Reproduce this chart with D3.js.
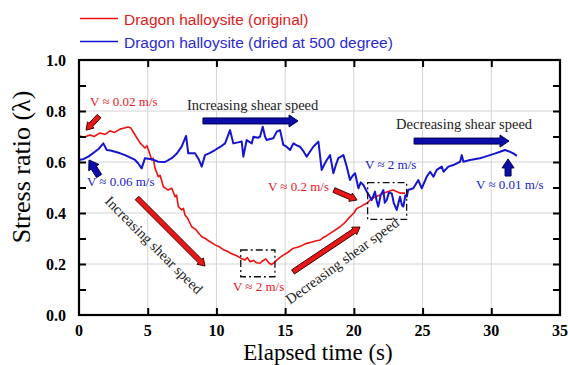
<!DOCTYPE html>
<html><head><meta charset="utf-8">
<script src="https://cdn.jsdelivr.net/npm/d3@7"></script>
<style>html,body{margin:0;padding:0;background:#fff;}svg{display:block;}</style>
</head><body>
<script>
// ---------- data ----------
const seriesNames = ["Dragon halloysite (original)", "Dragon halloysite (dried at 500 degree)"];
const xTicks = [0, 5, 10, 15, 20, 25, 30, 35];
const yTicks = [0.0, 0.2, 0.4, 0.6, 0.8, 1.0];
const yMinorTicks = [0.1, 0.3, 0.5, 0.7, 0.9];

// [elapsed time (s), stress ratio]
const redOriginal = [
 [0,0.702],[0.4,0.698],[0.8,0.706],[1.1,0.700],[1.53,0.714],[1.9,0.708],[2.26,0.722],[2.6,0.716],
 [2.98,0.729],[3.3,0.733],[3.57,0.737],[3.78,0.733],[4.08,0.706],[4.44,0.675],[4.8,0.655],[4.95,0.663],
 [5.1,0.640],[5.29,0.608],[5.4,0.615],[5.53,0.576],[5.77,0.542],[5.9,0.548],[6.14,0.503],[6.48,0.490],
 [6.75,0.497],[6.99,0.464],[7.1,0.470],[7.23,0.425],[7.47,0.412],[7.6,0.418],[7.71,0.392],[7.9,0.380],
 [8.2,0.346],[8.5,0.335],[8.7,0.322],[8.93,0.307],[9.2,0.300],[9.5,0.288],[9.9,0.275],[10.2,0.268],
 [10.5,0.256],[10.87,0.248],[11.1,0.240],[11.3,0.236],[11.59,0.229],[11.8,0.222],[12.08,0.216],
 [12.25,0.225],[12.45,0.209],[12.7,0.214],[12.9,0.205],[13.17,0.203],[13.35,0.212],[13.6,0.220],
 [13.8,0.205],[14.0,0.198],[14.14,0.203],[14.4,0.215],[14.6,0.225],[14.87,0.235],[15.1,0.242],
 [15.3,0.250],[15.6,0.262],[15.9,0.266],[16.2,0.272],[16.57,0.281],[16.9,0.285],[17.2,0.290],
 [17.54,0.294],[17.8,0.305],[18.0,0.310],[18.27,0.320],[18.6,0.332],[19.0,0.346],[19.3,0.360],
 [19.5,0.372],[19.72,0.385],[20.0,0.400],[20.21,0.418],[20.5,0.425],[20.7,0.432],[20.94,0.438],
 [21.18,0.451],[21.5,0.462],[21.9,0.471],[22.2,0.478],[22.5,0.484],[22.87,0.490],[23.1,0.484],
 [23.36,0.478],[23.73,0.478]
];
const blueDried = [
 [0,0.608],[0.35,0.612],[0.68,0.621],[0.9,0.630],[1.16,0.640],[1.45,0.652],[1.77,0.673],[2.02,0.647],
 [2.3,0.645],[2.62,0.640],[3.0,0.634],[3.35,0.627],[3.7,0.618],[4.08,0.608],[4.3,0.595],[4.56,0.575],
 [4.8,0.615],[5.29,0.611],[5.77,0.601],[6.26,0.600],[6.75,0.615],[7.1,0.632],[7.47,0.660],[7.79,0.702],
 [7.95,0.634],[8.44,0.634],[8.7,0.612],[8.93,0.582],[9.17,0.627],[9.5,0.635],[9.9,0.647],[10.3,0.660],
 [10.63,0.673],[10.99,0.725],[11.23,0.673],[11.5,0.676],[11.84,0.680],[11.96,0.621],[12.2,0.686],
 [12.57,0.673],[12.69,0.699],[13.0,0.695],[13.17,0.699],[13.37,0.738],[13.54,0.699],[13.66,0.686],
 [13.9,0.690],[14.14,0.693],[14.39,0.719],[14.63,0.725],[14.87,0.667],[15.1,0.660],[15.36,0.647],
 [15.6,0.673],[15.85,0.665],[16.08,0.660],[16.3,0.645],[16.57,0.621],[16.8,0.640],[17.05,0.660],
 [17.42,0.680],[17.66,0.569],[17.85,0.590],[18.03,0.608],[18.27,0.627],[18.51,0.556],[18.7,0.590],
 [18.87,0.615],[19.24,0.627],[19.48,0.582],[19.72,0.529],[19.9,0.545],[20.09,0.556],[20.33,0.497],
 [20.5,0.520],[20.69,0.510],[20.94,0.484],[21.1,0.470],[21.3,0.451],[21.54,0.484],[21.65,0.450],
 [21.78,0.425],[21.95,0.470],[22.15,0.490],[22.25,0.440],[22.39,0.451],[22.55,0.480],[22.76,0.477],
 [22.9,0.440],[23.12,0.412],[23.36,0.464],[23.5,0.430],[23.6,0.425],[23.75,0.470],[23.85,0.464],
 [23.95,0.490],[24.33,0.497],[24.69,0.529],[24.94,0.497],[25.3,0.542],[25.55,0.562],[25.79,0.542],
 [26.03,0.569],[26.4,0.582],[26.52,0.562],[26.88,0.582],[27.24,0.588],[27.73,0.601],[27.85,0.627],
 [27.97,0.601],[28.46,0.608],[29.18,0.615],[29.5,0.620],[29.91,0.627],[30.3,0.634],[30.64,0.640],
 [31.0,0.647],[31.37,0.640],[31.6,0.634],[31.86,0.624]
];

// annotations (data coordinates)
const labels = [
 {t:0.8, v:0.82, text:"V ≈ 0.02 m/s", color:"#e8141e"},
 {t:0.58, v:0.506, text:"V ≈ 0.06 m/s", color:"#2020c8"},
 {t:7.86, v:0.804, text:"Increasing shear speed", color:"#222"},
 {t:23.07, v:0.729, text:"Decreasing shear speed", color:"#222"},
 {t:28.89, v:0.494, text:"V ≈ 0.01 m/s", color:"#2020c8"},
 {t:20.81, v:0.573, text:"V ≈ 2 m/s", color:"#2020c8"},
 {t:13.75, v:0.486, text:"V ≈ 0.2 m/s", color:"#e8141e"},
 {t:11.2, v:0.094, text:"V ≈ 2 m/s", color:"#e8141e"}
];
const rotLabels = [
 {t:1.82, v:0.443, angle:45, text:"Increasing shear speed"},
 {t:15.35, v:0.04, angle:-36, text:"Decreasing shear speed"}
];
const arrows = [
 {from:[1.46,0.78], to:[0.51,0.725], kind:"red"},
 {from:[1.46,0.545], to:[0.73,0.608], kind:"blue"},
 {from:[9.02,0.761], to:[15.94,0.761], kind:"blue"},
 {from:[24.38,0.682], to:[31.29,0.682], kind:"blue"},
 {from:[31.22,0.545], to:[31.22,0.612], kind:"blue"},
 {from:[18.55,0.49], to:[20.23,0.451], kind:"red"},
 {from:[4.22,0.459], to:[9.17,0.192], kind:"red"},
 {from:[15.57,0.169], to:[20.45,0.345], kind:"red"}
];
const boxes = [
 {t0:21.0, t1:23.84, v0:0.375, v1:0.519},
 {t0:11.77, t1:14.26, v0:0.150, v1:0.255}
];

// ---------- chart ----------
const W = 568, H = 365;
const RED = "#ee1111", BLUE = "#1515d0";
const SERIF = "Liberation Serif, Times New Roman, serif";
const svg = d3.select("body").append("svg").attr("width", W).attr("height", H);
const x = d3.scaleLinear().domain([0, 35]).range([79, 560]);
const y = d3.scaleLinear().domain([0, 1]).range([315, 60]);

// grid
const g = svg.append("g");
g.selectAll("line.gx").data(xTicks.slice(1, -1)).enter().append("line")
 .attr("x1", d => x(d)).attr("x2", d => x(d)).attr("y1", y(0)).attr("y2", y(1))
 .attr("stroke", "#d4d4d4").attr("stroke-width", 1);
g.selectAll("line.gy").data(yTicks.slice(1, -1)).enter().append("line")
 .attr("x1", x(0)).attr("x2", x(35)).attr("y1", d => y(d)).attr("y2", d => y(d))
 .attr("stroke", "#d4d4d4").attr("stroke-width", 1);

// curves
const line = d3.line().x(d => x(d[0])).y(d => y(d[1]));
svg.append("path").datum(redOriginal).attr("d", line).attr("fill", "none")
 .attr("stroke", RED).attr("stroke-width", 1.6).attr("stroke-linejoin", "round");
svg.append("path").datum(blueDried).attr("d", line).attr("fill", "none")
 .attr("stroke", BLUE).attr("stroke-width", 2).attr("stroke-linejoin", "round");

// boxes
svg.selectAll("rect.box").data(boxes).enter().append("rect")
 .attr("x", d => x(d.t0)).attr("y", d => y(d.v1))
 .attr("width", d => x(d.t1) - x(d.t0)).attr("height", d => y(d.v0) - y(d.v1))
 .attr("fill", "none").attr("stroke", "#111").attr("stroke-width", 1.3)
 .attr("stroke-dasharray", "7,3,2,3");

// axes (ticks inward)
const tickLen = 7;
const axB = d3.axisBottom(x).tickValues(xTicks.slice(1, -1)).tickSizeInner(-tickLen).tickSizeOuter(0).tickFormat("");
const axT = d3.axisTop(x).tickValues(xTicks.slice(1, -1)).tickSizeInner(-tickLen).tickSizeOuter(0).tickFormat("");
const allY = yTicks.concat(yMinorTicks).filter(v => v > 0 && v < 1);
const axL = d3.axisLeft(y).tickValues(allY).tickSizeInner(-tickLen).tickSizeOuter(0).tickFormat("");
const axR = d3.axisRight(y).tickValues(allY).tickSizeInner(-tickLen).tickSizeOuter(0).tickFormat("");
[[axB, `translate(0,${y(0)})`], [axT, `translate(0,${y(1)})`], [axL, `translate(${x(0)},0)`], [axR, `translate(${x(35)},0)`]]
 .forEach(([a, tr]) => {
  const ga = svg.append("g").attr("transform", tr).call(a);
  ga.select(".domain").remove();
  ga.selectAll("line").attr("stroke", "#000").attr("stroke-width", 2);
 });
svg.append("rect").attr("x", x(0)).attr("y", y(1)).attr("width", x(35) - x(0)).attr("height", y(0) - y(1))
 .attr("fill", "none").attr("stroke", "#000").attr("stroke-width", 2.2);

// tick labels
svg.selectAll("text.xl").data(xTicks).enter().append("text")
 .attr("x", d => x(d)).attr("y", 336).attr("text-anchor", "middle")
 .attr("font-family", SERIF).attr("font-weight", "bold")
 .attr("font-size", 16).text(d => d);
svg.selectAll("text.yl").data(yTicks).enter().append("text")
 .attr("x", 66).attr("y", d => y(d)).attr("dy", "0.35em").attr("text-anchor", "end")
 .attr("font-family", SERIF).attr("font-weight", "bold")
 .attr("font-size", 16).text(d => d.toFixed(1));

// axis titles
svg.append("text").attr("x", 318).attr("y", 360).attr("text-anchor", "middle")
 .attr("font-family", SERIF).attr("font-size", 23)
 .text("Elapsed time (s)");
svg.append("text").attr("transform", "translate(30,167) rotate(-90)").attr("text-anchor", "middle")
 .attr("font-family", SERIF).attr("font-size", 26)
 .text("Stress ratio (λ)");

// legend
const leg = svg.append("g");
seriesNames.forEach((name, i) => {
 const col = i === 0 ? RED : BLUE;
 const yy = i === 0 ? 18.5 : 41.5;
 leg.append("line").attr("x1", 80).attr("x2", 118).attr("y1", yy).attr("y2", yy)
  .attr("stroke", col).attr("stroke-width", 1.5);
 leg.append("text").attr("x", 124).attr("y", yy + 6).attr("fill", i === 0 ? "#e02020" : "#2a2ad0")
  .attr("font-family", "Liberation Sans, Arial, sans-serif").attr("font-size", 15.5).text(name);
});

// annotation labels
svg.selectAll("text.ann").data(labels).enter().append("text")
 .attr("x", d => x(d.t)).attr("y", d => y(d.v)).attr("fill", d => d.color)
 .attr("font-family", SERIF).attr("font-size", d => d.color === "#222" ? 14.5 : 13)
 .text(d => d.text);
svg.selectAll("text.rot").data(rotLabels).enter().append("text")
 .attr("transform", d => `translate(${x(d.t)},${y(d.v)}) rotate(${d.angle})`)
 .attr("fill", "#222").attr("font-family", SERIF).attr("font-size", 14.5)
 .text(d => d.text);

// arrows
function arrowPath(x0, y0, x1, y1, sw, hw, hl) {
 const dx = x1 - x0, dy = y1 - y0, L = Math.hypot(dx, dy);
 const ux = dx / L, uy = dy / L, px = -uy, py = ux;
 const bx = x1 - ux * hl, by = y1 - uy * hl;
 const pts = [
  [x0 + px * sw / 2, y0 + py * sw / 2], [bx + px * sw / 2, by + py * sw / 2], [bx + px * hw / 2, by + py * hw / 2],
  [x1, y1], [bx - px * hw / 2, by - py * hw / 2], [bx - px * sw / 2, by - py * sw / 2], [x0 - px * sw / 2, y0 - py * sw / 2]
 ];
 return "M" + pts.map(p => p.join(",")).join("L") + "Z";
}
svg.selectAll("path.arrow").data(arrows).enter().append("path")
 .attr("d", d => d.kind === "red"
   ? arrowPath(x(d.from[0]), y(d.from[1]), x(d.to[0]), y(d.to[1]), 5, 9, 7)
   : arrowPath(x(d.from[0]), y(d.from[1]), x(d.to[0]), y(d.to[1]), 6, 12, 9))
 .attr("fill", d => d.kind === "red" ? "#e81818" : "#0c0ca8")
 .attr("stroke", d => d.kind === "red" ? "#4a0000" : "#000050")
 .attr("stroke-width", 1);
</script>
</body></html>
